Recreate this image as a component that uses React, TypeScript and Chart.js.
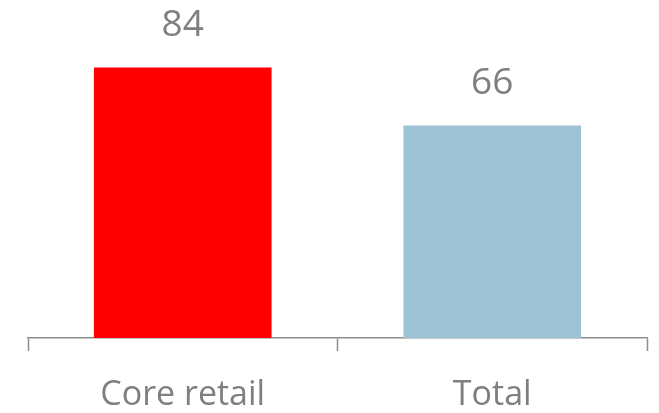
import React, { useEffect, useRef } from "react";
import { Chart, registerables } from "chart.js";

Chart.register(...registerables);

const categories = ["Core retail", "Total"];
const values = [84, 66];
const barColors = ["#FF0000", "#9DC3D4"];

const FONT = "'Open Sans', sans-serif";
const GRAY = "#7F7F7F";

const valueLabels = {
  id: "valueLabels",
  afterDatasetsDraw(chart: any) {
    const ctx = chart.ctx;
    const meta = chart.getDatasetMeta(0);
    ctx.save();
    ctx.fillStyle = GRAY;
    ctx.font = `37px ${FONT}`;
    ctx.textAlign = "center";
    ctx.textBaseline = "alphabetic";
    meta.data.forEach((bar: any, i: number) => {
      ctx.fillText(String(values[i]), bar.x, bar.y - 32);
    });
    ctx.restore();
  },
};

export default function App() {
  const ref = useRef<HTMLCanvasElement>(null);
  useEffect(() => {
    document.body.style.margin = "0";
    const chart = new Chart(ref.current!, {
      type: "bar",
      data: {
        labels: categories,
        datasets: [
          {
            data: values,
            backgroundColor: barColors,
            barPercentage: 0.574,
            categoryPercentage: 1,
          },
        ],
      },
      options: {
        animation: false,
        responsive: false,
        maintainAspectRatio: false,
        layout: { padding: { left: 28, right: 12, top: 0, bottom: 0 } },
        plugins: { legend: { display: false }, tooltip: { enabled: false } },
        scales: {
          y: { display: false, min: 0, max: 105 },
          x: {
            border: { display: true, color: "#8C8C8C", width: 1.5 },
            grid: {
              display: true,
              drawOnChartArea: false,
              drawTicks: true,
              tickLength: 13,
              tickWidth: 1.5,
              tickColor: "#8C8C8C",
              offset: true,
            },
            ticks: {
              color: GRAY,
              font: { family: FONT, size: 34 },
              padding: 24,
              maxRotation: 0,
            },
            afterFit(scale: any) {
              scale.height = 75;
            },
          },
        },
      },
      plugins: [valueLabels],
    });
    return () => chart.destroy();
  }, []);
  return (
    <div style={{ width: 659, height: 413 }}>
      <canvas ref={ref} width={659} height={413} style={{ display: "block" }} />
    </div>
  );
}
